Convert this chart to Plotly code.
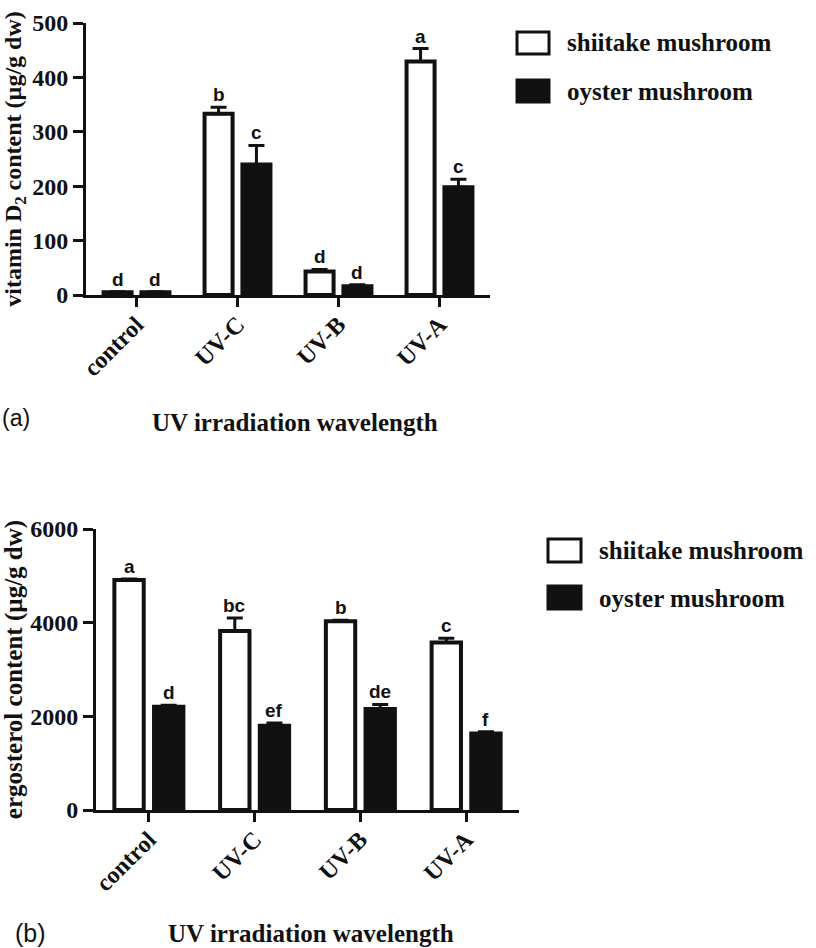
import plotly.graph_objects as go

categories = ["control", "UV-C", "UV-B", "UV-A"]

# (a) vitamin D2 content (µg/g dw)
vd2_shiitake = [5, 333, 43, 429]
vd2_shiitake_err = [1, 12, 4, 24]
vd2_oyster = [5, 240, 16, 198]
vd2_oyster_err = [1, 35, 3, 15]
vd2_shiitake_letters = ["d", "b", "d", "a"]
vd2_oyster_letters = ["d", "c", "d", "c"]

# (b) ergosterol content (µg/g dw)
erg_shiitake = [4910, 3820, 4030, 3575]
erg_shiitake_err = [20, 280, 20, 90]
erg_oyster = [2205, 1800, 2155, 1635]
erg_oyster_err = [30, 60, 100, 35]
erg_shiitake_letters = ["a", "bc", "b", "c"]
erg_oyster_letters = ["d", "ef", "de", "f"]

series_names = ["shiitake mushroom", "oyster mushroom"]

W, H = 816, 948


def px(xp):
    return xp / W


def py(yp):
    return 1 - yp / H


SERIF = "Liberation Serif"
SANS = "Liberation Sans"
INK = "#111"
BARGAP = 0.25
BARGROUPGAP = 0.26
slot = (1 - BARGAP) / 2
offset = slot / 2

fig = go.Figure()

panels = [
    dict(xa="x", ya="y", sh=vd2_shiitake, she=vd2_shiitake_err, oy=vd2_oyster, oye=vd2_oyster_err,
         shl=vd2_shiitake_letters, oyl=vd2_oyster_letters),
    dict(xa="x2", ya="y2", sh=erg_shiitake, she=erg_shiitake_err, oy=erg_oyster, oye=erg_oyster_err,
         shl=erg_shiitake_letters, oyl=erg_oyster_letters),
]

annotations = []
for p in panels:
    fig.add_trace(go.Bar(
        x=categories, y=p["sh"], name=series_names[0], xaxis=p["xa"], yaxis=p["ya"],
        marker=dict(color="white", line=dict(color=INK, width=4)),
        error_y=dict(type="data", symmetric=False, array=p["she"], arrayminus=[0] * 4,
                     color=INK, thickness=3, width=8),
        showlegend=False))
    fig.add_trace(go.Bar(
        x=categories, y=p["oy"], name=series_names[1], xaxis=p["xa"], yaxis=p["ya"],
        marker=dict(color=INK, line=dict(color=INK, width=4)),
        error_y=dict(type="data", symmetric=False, array=p["oye"], arrayminus=[0] * 4,
                     color=INK, thickness=3, width=8),
        showlegend=False))
    for i in range(len(categories)):
        for vals, errs, letters, sgn in ((p["sh"], p["she"], p["shl"], -1), (p["oy"], p["oye"], p["oyl"], 1)):
            annotations.append(dict(
                x=i + sgn * offset, y=vals[i] + errs[i], xref=p["xa"], yref=p["ya"],
                text=letters[i], showarrow=False, xanchor="center", yanchor="bottom", yshift=0,
                font=dict(family=SANS, size=19, color=INK, weight="bold")))

# axis titles, panel labels
annotations += [
    dict(x=px(295), y=py(422), xref="paper", yref="paper", text="UV irradiation wavelength",
         xanchor="center", yanchor="middle",
         showarrow=False, font=dict(family=SERIF, size=25, color=INK, weight="bold")),
    dict(x=px(311), y=py(933), xref="paper", yref="paper", text="UV irradiation wavelength",
         xanchor="center", yanchor="middle",
         showarrow=False, font=dict(family=SERIF, size=25, color=INK, weight="bold")),
    dict(x=px(0), y=py(418), xref="paper", yref="paper", text="(a)", xanchor="left", yanchor="middle",
         showarrow=False, font=dict(family=SANS, size=23, color=INK)),
    dict(x=px(13), y=py(933), xref="paper", yref="paper", text="(b)", xanchor="left", yanchor="middle",
         showarrow=False, font=dict(family=SANS, size=25, color=INK)),
]

# custom legends (large swatches)
shapes = []
legends = [
    dict(bx0=517, bx1=549, tx=565, rows=[(32, 54, 43), (80, 102, 91)]),
    dict(bx0=548, bx1=581, tx=597, rows=[(539, 562, 550), (586, 609, 598)]),
]
for lg in legends:
    for k, (y0, y1, yc) in enumerate(lg["rows"]):
        shapes.append(dict(type="rect", xref="paper", yref="paper",
                           x0=px(lg["bx0"]), x1=px(lg["bx1"]), y0=py(y0), y1=py(y1),
                           fillcolor="white" if k == 0 else INK,
                           line=dict(color=INK, width=3)))
        annotations.append(dict(x=px(lg["tx"]), y=py(yc), xref="paper", yref="paper",
                                text=series_names[k], showarrow=False, xanchor="left", yanchor="middle",
                                font=dict(family=SERIF, size=25, color=INK, weight="bold")))

tickfont = dict(family=SERIF, size=24, color=INK, weight="bold")
xcommon = dict(type="category", range=[-0.5, 3.5], showline=True, linecolor=INK, linewidth=3,
               ticks="outside", ticklen=9, tickwidth=3, tickcolor=INK, tickangle=-45,
               ticklabelstandoff=-6,
               tickfont=tickfont, showgrid=False, zeroline=False, automargin=False)
ycommon = dict(showline=True, linecolor=INK, linewidth=3, ticks="outside", ticklen=10,
               tickwidth=3, tickcolor=INK, tickfont=tickfont, showgrid=False, zeroline=False,
               automargin=False)

fig.update_layout(
    width=W, height=H, margin=dict(l=0, r=0, t=0, b=0),
    paper_bgcolor="white", plot_bgcolor="white",
    barmode="group", bargap=BARGAP, bargroupgap=BARGROUPGAP,
    xaxis=dict(domain=[px(86), px(490)], anchor="y", **xcommon),
    yaxis=dict(domain=[py(295), py(23)], anchor="x", range=[0, 500], tickvals=[0, 100, 200, 300, 400, 500],
               title=dict(text="vitamin D<sub>2</sub> content (µg/g dw)", standoff=4,
                          font=dict(family=SERIF, size=24, color=INK, weight="bold")), **ycommon),
    xaxis2=dict(domain=[px(96), px(519)], anchor="y2", **xcommon),
    yaxis2=dict(domain=[py(810), py(529)], anchor="x2", range=[0, 6000], tickvals=[0, 2000, 4000, 6000],
                title=dict(text="ergosterol content (µg/g dw)", standoff=4,
                           font=dict(family=SERIF, size=25, color=INK, weight="bold")), **ycommon),
    annotations=annotations, shapes=shapes,
)

# remove the default 8px page margin so the 816x948 figure fills the window exactly
fig.write_html("out.html", config={"displayModeBar": False},
               post_script="document.body.style.margin='0';")
